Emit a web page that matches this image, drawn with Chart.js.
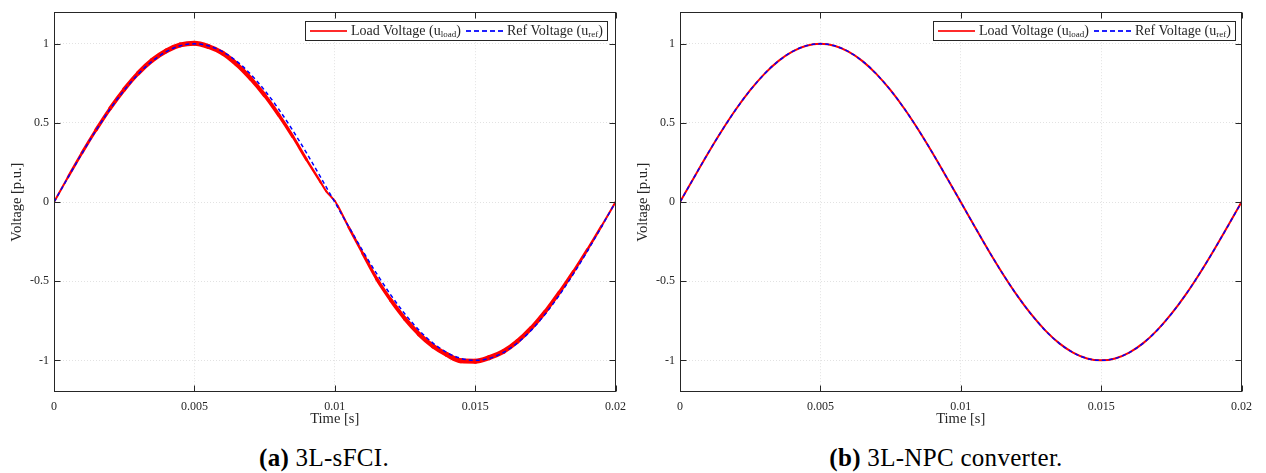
<!DOCTYPE html>
<html>
<head>
<meta charset="utf-8">
<title>Load vs reference voltage</title>
<script src="https://cdn.jsdelivr.net/npm/chart.js@4.4.1/dist/chart.umd.min.js"></script>
<style>
    body { margin: 0; background: #fff; }
    #page { position: relative; width: 1266px; height: 473px; overflow: hidden; font-family: "Liberation Serif", serif; color: #262626; }
    .plot { position: absolute; top: 0; }
    .legend { position: absolute; top: 21px; width: 301px; height: 18px; border: 1px solid #262626; background: #fff; font-size: 14px; }
    .legend span { position: absolute; white-space: nowrap; }
    .legend .txt { top: 0px; line-height: 18px; }
    .legend sub { font-size: 9px; vertical-align: -2px; }
    .sw { top: 8px; width: 37px; height: 2px; }
    .sw.red { background: #ff2b2b; }
    .sw.blue { background: repeating-linear-gradient(90deg, #2020ff 0 5px, transparent 5px 8px); }
    .caption { position: absolute; top: 444px; font-size: 25px; letter-spacing: 0.3px; color: #000; white-space: nowrap; transform: translateX(-50%); }
</style>
</head>
<body>
<div id="page">
    <div class="plot" style="left:0px"><canvas id="chartA" width="634" height="430"></canvas></div>
    <div class="plot" style="left:626px"><canvas id="chartB" width="634" height="430"></canvas></div>

    <div class="legend" style="left:305px">
        <span class="sw red" style="left:4px"></span>
        <span class="txt" style="left:45px">Load Voltage (u<sub>load</sub>)</span>
        <span class="sw blue" style="left:160px"></span>
        <span class="txt" style="left:201px">Ref Voltage (u<sub>ref</sub>)</span>
    </div>
    <div class="legend" style="left:933px">
        <span class="sw red" style="left:4px"></span>
        <span class="txt" style="left:45px">Load Voltage (u<sub>load</sub>)</span>
        <span class="sw blue" style="left:160px"></span>
        <span class="txt" style="left:201px">Ref Voltage (u<sub>ref</sub>)</span>
    </div>

    <div class="caption" style="left:324px"><b>(a)</b> 3L-sFCI.</div>
    <div class="caption" style="left:946px"><b>(b)</b> 3L-NPC converter.</div>
</div>

<script>
// ---- data ----
const seriesLabels = ['Load Voltage (u_load)', 'Ref Voltage (u_ref)'];

const xTickValues = [0, 0.005, 0.01, 0.015, 0.02];
const xTickLabels = ['0', '0.005', '0.01', '0.015', '0.02'];
const yTickValues = [-1, -0.5, 0, 0.5, 1];
const yTickLabels = ['-1', '-0.5', '0', '0.5', '1'];

// time base of the reference (and of the NPC load voltage)
const timeRef = [
    0, 0.0005, 0.001, 0.0015, 0.002, 0.0025, 0.003, 0.0035, 0.004, 0.0045,
    0.005, 0.0055, 0.006, 0.0065, 0.007, 0.0075, 0.008, 0.0085, 0.009, 0.0095,
    0.01, 0.0105, 0.011, 0.0115, 0.012, 0.0125, 0.013, 0.0135, 0.014, 0.0145,
    0.015, 0.0155, 0.016, 0.0165, 0.017, 0.0175, 0.018, 0.0185, 0.019, 0.0195,
    0.02
];
const refVoltage = [
    0, 0.156, 0.309, 0.454, 0.588, 0.707, 0.809, 0.891, 0.951, 0.988,
    1, 0.988, 0.951, 0.891, 0.809, 0.707, 0.588, 0.454, 0.309, 0.156,
    0, -0.156, -0.309, -0.454, -0.588, -0.707, -0.809, -0.891, -0.951, -0.988,
    -1, -0.988, -0.951, -0.891, -0.809, -0.707, -0.588, -0.454, -0.309, -0.156,
    0
];

// (a) 3L-sFCI load voltage: leads slightly, small kink at the zero crossing
const timeLoadA = [
    0, 0.0005, 0.001, 0.0015, 0.002, 0.0025, 0.003, 0.0035, 0.004, 0.0045,
    0.005, 0.0055, 0.006, 0.0065, 0.007, 0.0075, 0.008, 0.0085, 0.009, 0.0095,
    0.0097, 0.0099, 0.01, 0.0101, 0.0105, 0.011, 0.0115, 0.012, 0.0125, 0.013,
    0.0135, 0.014, 0.0145, 0.015, 0.0155, 0.016, 0.0165, 0.017, 0.0175, 0.018,
    0.0185, 0.019, 0.0195, 0.02
];
const loadVoltageA = [
    0, 0.158, 0.312, 0.457, 0.592, 0.712, 0.815, 0.897, 0.956, 0.993,
    1.004, 0.983, 0.942, 0.872, 0.782, 0.676, 0.552, 0.416, 0.267, 0.125,
    0.068, 0.028, 0.008, -0.022, -0.160, -0.325, -0.487, -0.620, -0.737, -0.834,
    -0.910, -0.964, -1.003, -1.005, -0.983, -0.945, -0.881, -0.796, -0.692, -0.571,
    -0.440, -0.300, -0.152, 0
];

// (b) 3L-NPC load voltage: on top of the reference
const loadVoltageB = [
    0, 0.156, 0.309, 0.454, 0.588, 0.707, 0.809, 0.891, 0.951, 0.988,
    1, 0.988, 0.951, 0.891, 0.809, 0.707, 0.588, 0.454, 0.309, 0.156,
    0, -0.156, -0.309, -0.454, -0.588, -0.707, -0.809, -0.891, -0.951, -0.988,
    -1, -0.988, -0.951, -0.891, -0.809, -0.707, -0.588, -0.454, -0.309, -0.156,
    0
];

// ---- helpers ----
const axisColor = '#262626';
const fontFamily = '"Liberation Serif", serif';

const toPoints = (xs, ys) => xs.map((x, i) => ({ x: x, y: ys[i] }));

// MATLAB-like box with inward ticks on all four sides
const boxPlugin = {
    id: 'box',
    afterDraw(chart) {
        const { ctx, chartArea: a, scales } = chart;
        const l = Math.round(a.left) + 0.5;
        const r = Math.round(a.right) - 0.5;
        const t = Math.round(a.top) + 0.5;
        const b = Math.round(a.bottom) - 0.5;
        ctx.save();
        ctx.strokeStyle = axisColor;
        ctx.lineWidth = 1;
        ctx.strokeRect(l, t, r - l, b - t);
        ctx.beginPath();
        scales.x.ticks.forEach(tk => {
            const x = Math.round(scales.x.getPixelForValue(tk.value)) + 0.5;
            ctx.moveTo(x, b); ctx.lineTo(x, b - 6);
            ctx.moveTo(x, t); ctx.lineTo(x, t + 6);
        });
        scales.y.ticks.forEach(tk => {
            const y = Math.round(scales.y.getPixelForValue(tk.value)) + 0.5;
            ctx.moveTo(l, y); ctx.lineTo(l + 6, y);
            ctx.moveTo(r, y); ctx.lineTo(r - 6, y);
        });
        ctx.stroke();
        ctx.restore();
    }
};

function makeChart(canvasId, loadTime, loadValues, loadStyle, refDash) {
    const canvas = document.getElementById(canvasId);
    return new Chart(canvas, {
        type: 'line',
        data: {
            datasets: [
                {
                    label: seriesLabels[0],
                    data: toPoints(loadTime, loadValues),
                    borderColor: '#ff0000',
                    borderWidth: loadStyle.width,
                    borderCapStyle: 'round',
                    borderJoinStyle: 'round',
                    cubicInterpolationMode: 'monotone',
                    pointRadius: 0,
                    order: 2,
                    segment: loadStyle.segment
                },
                {
                    label: seriesLabels[1],
                    data: toPoints(timeRef, refVoltage),
                    borderColor: '#0000ff',
                    borderWidth: 1.5,
                    borderDash: refDash,
                    cubicInterpolationMode: 'monotone',
                    pointRadius: 0,
                    order: 1
                }
            ]
        },
        options: {
            responsive: false,
            animation: false,
            events: [],
            layout: { padding: { top: 10, right: 15, left: 0, bottom: 0 } },
            plugins: {
                legend: { display: false },
                tooltip: { enabled: false }
            },
            scales: {
                x: {
                    type: 'linear',
                    min: 0,
                    max: 0.02,
                    afterBuildTicks: s => { s.ticks = xTickValues.map(v => ({ value: v })); },
                    afterFit: s => { s.height = 38; },
                    ticks: {
                        callback: (v, i) => xTickLabels[i],
                        color: axisColor,
                        padding: 8,
                        maxRotation: 0,
                        font: { family: fontFamily, size: 12 }
                    },
                    grid: { color: '#e2e2e2', drawTicks: false },
                    border: { display: false, dash: [1, 2] },
                    title: {
                        display: true,
                        text: 'Time [s]',
                        color: axisColor,
                        padding: { top: 0, bottom: 2 },
                        font: { family: fontFamily, size: 14.5 }
                    }
                },
                y: {
                    min: -1.2,
                    max: 1.2,
                    afterBuildTicks: s => { s.ticks = yTickValues.map(v => ({ value: v })); },
                    afterFit: s => { s.width = 54; },
                    ticks: {
                        callback: (v, i) => yTickLabels[i],
                        color: axisColor,
                        padding: 5,
                        font: { family: fontFamily, size: 12 }
                    },
                    grid: { color: '#e2e2e2', drawTicks: false },
                    border: { display: false, dash: [1, 2] },
                    title: {
                        display: true,
                        text: 'Voltage [p.u.]',
                        color: axisColor,
                        padding: { top: 8, bottom: 0 },
                        font: { family: fontFamily, size: 14.5 }
                    }
                }
            }
        },
        plugins: [boxPlugin]
    });
}

// thick ripple band in (a): wider where the voltage is high
const bandStyleA = {
    width: 3,
    segment: {
        borderWidth: c => 1.8 + 3.2 * Math.abs(c.p0.parsed.y + c.p1.parsed.y) / 2
    }
};
const plainStyleB = { width: 2, segment: {} };

makeChart('chartA', timeLoadA, loadVoltageA, bandStyleA, [4, 3]);
makeChart('chartB', timeRef, loadVoltageB, plainStyleB, [4, 3]);
</script>
</body>
</html>
